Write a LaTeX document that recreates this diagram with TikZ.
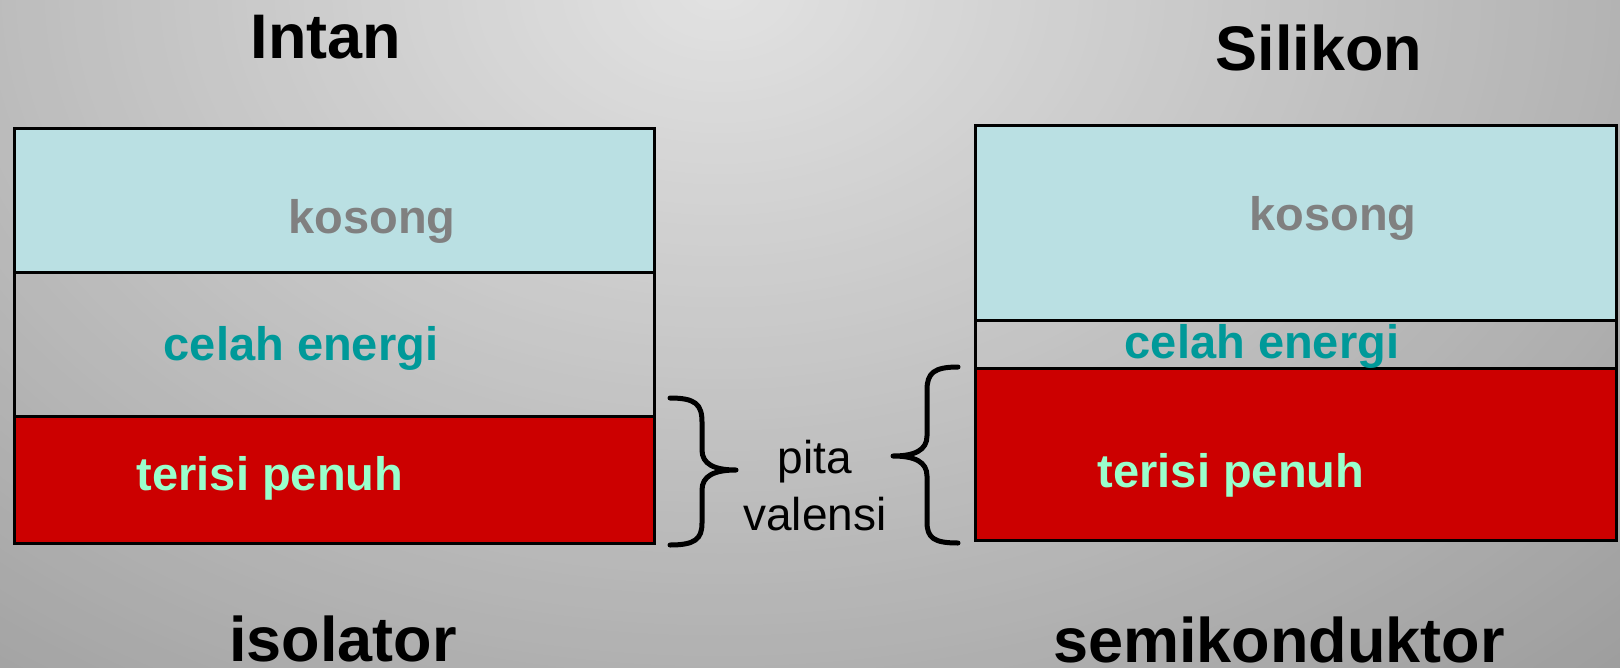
\documentclass[tikz,border=0pt]{standalone}
\usepackage{fontspec}
\setmainfont{Liberation Sans}
\definecolor{vacant}{HTML}{BAE0E3}
\definecolor{filled}{HTML}{CC0000}
\definecolor{vacantText}{HTML}{808080}
\definecolor{gapText}{HTML}{009999}
\definecolor{fullText}{HTML}{99FFCC}
\begin{document}
\begin{tikzpicture}[x=1pt,y=-1pt,
  band/.style={draw=black, line width=3pt},
  title/.style={font=\bfseries\fontsize{63}{70}\selectfont, inner sep=0pt, anchor=base},
  label/.style={font=\bfseries\fontsize{47}{52}\selectfont, inner sep=0pt, anchor=base},
  note/.style={font=\fontsize{46}{52}\selectfont, inner sep=0pt, anchor=base},
  curly/.style={draw=black, line width=5pt, line cap=round, line join=round}]
\useasboundingbox (0,0) rectangle (1620,667);
\clip (0,0) rectangle (1620,667);
% backdrop: elliptical gradient in fine steps, lightest at the top centre
\foreach \i in {100,99,...,1} {
  \pgfmathsetmacro\rr{\i/80}
  \pgfmathsetmacro\gv{(226-60*(\rr-0.00625))/255}
  \definecolor{ring}{gray}{\gv}
  \fill[ring] (720,-10) ellipse [x radius={1150*\rr}, y radius={820*\rr}];
}

% insulator bands (diamond)
\path[band, fill=vacant] (14,128) rectangle (654,272);
\path[band] (14,272) rectangle (654,416);
\path[band, fill=filled] (14,416) rectangle (654,543);

% semiconductor bands (silicon)
\path[band, fill=vacant] (975,125) rectangle (1616,320);
\path[band] (975,320) rectangle (1616,368);
\path[band, fill=filled] (975,368) rectangle (1616,540);

% braces around the valence band
\draw[curly] (670,398) .. controls (695,398) and (702,404) .. (702,422)
  -- (702,450) .. controls (702,464) and (714,470) .. (736,470)
  .. controls (714,470) and (702,476) .. (702,490)
  -- (702,523) .. controls (702,539) and (695,545) .. (670,545);
\draw[curly] (958,367) .. controls (934,367) and (927,373) .. (927,390)
  -- (927,436) .. controls (927,450) and (915,456) .. (893,456)
  .. controls (915,456) and (927,462) .. (927,476)
  -- (927,522) .. controls (927,538) and (934,543) .. (958,543);

% titles
\node[title] (tIntan) at (326,58) {Intan};
\node[title] (tSilikon) at (1319,70) {Silikon};
\node[title] (tIsolator) at (343,661) {isolator};
\node[title] (tSemi) at (1279,662) {semikonduktor};

% band labels
\node[label, text=vacantText] (lKosong) at (372,233) {kosong};
\node[label, text=gapText] (lCelah) at (301,360) {celah energi};
\node[label, text=fullText] (lPenuh) at (270,490) {terisi penuh};
\node[label, text=vacantText] (rKosong) at (1333,230) {kosong};
\node[label, text=gapText] (rCelah) at (1262,358) {celah energi};
\node[label, text=fullText] (rPenuh) at (1231,487) {terisi penuh};

% valence band caption
\node[note] (pita) at (815,473) {pita};
\node[note] (valensi) at (815,530) {valensi};
\end{tikzpicture}
\end{document}
